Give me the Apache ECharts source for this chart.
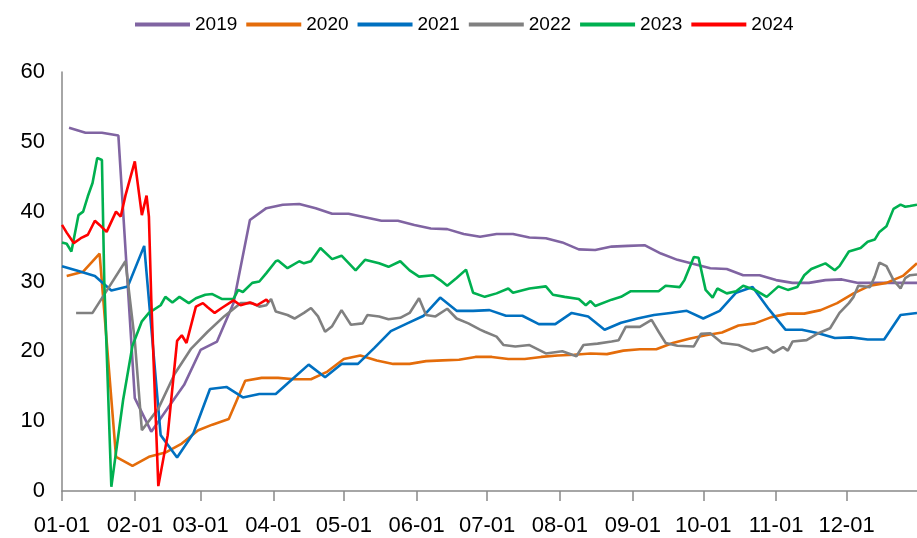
<!DOCTYPE html>
<html>
<head>
<meta charset="utf-8">
<script src="https://cdn.jsdelivr.net/npm/echarts@6/dist/echarts.min.js"></script>
<style>
  html, body { margin: 0; padding: 0; background: #fff; }
  #chart { width: 917px; height: 538px; }
</style>
</head>
<body>
<div id="chart"></div>
<script>
// Day-of-year axis (MM-DD), labelled at the first day of each month
const monthLengths = [31, 28, 31, 30, 31, 30, 31, 31, 30, 31, 30, 31];
const monthTicks = ['01-01', '02-01', '03-01', '04-01', '05-01', '06-01',
                    '07-01', '08-01', '09-01', '10-01', '11-01', '12-01'];

const seriesNames = ['2019', '2020', '2021', '2022', '2023', '2024'];
const seriesColors = ['#8064A2', '#E46C0A', '#0070C0', '#808080', '#00B050', '#FF0000'];

const s2019 = [['01-04',52.0],['01-11',51.3],['01-18',51.3],['01-25',50.9],['02-01',13.3],['02-08',8.5],['02-22',15.2],['03-01',20.2],['03-08',21.4],['03-15',26.9],['03-22',38.8],['03-29',40.5],['04-05',41.0],['04-12',41.1],['04-19',40.5],['04-26',39.7],['05-03',39.7],['05-10',39.2],['05-17',38.7],['05-24',38.7],['05-31',38.1],['06-07',37.6],['06-14',37.5],['06-21',36.8],['06-28',36.4],['07-05',36.8],['07-12',36.8],['07-19',36.3],['07-26',36.2],['08-02',35.6],['08-09',34.6],['08-16',34.5],['08-23',35.0],['08-30',35.1],['09-06',35.2],['09-13',34.0],['09-20',33.1],['09-27',32.5],['10-04',31.9],['10-11',31.8],['10-18',30.9],['10-25',30.9],['11-01',30.2],['11-08',29.8],['11-15',29.8],['11-22',30.2],['11-29',30.3],['12-06',29.8],['12-13',29.8],['12-20',29.8],['12-27',29.8],['12-31',29.8]];

const s2020 = [['01-03',30.8],['01-10',31.4],['01-17',34.0],['01-24',4.9],['01-31',3.6],['02-07',4.9],['02-14',5.5],['02-21',6.8],['02-28',8.7],['03-06',9.5],['03-13',10.3],['03-20',15.8],['03-27',16.2],['04-03',16.2],['04-10',16.0],['04-17',16.0],['04-24',17.1],['05-01',18.9],['05-08',19.4],['05-15',18.7],['05-22',18.2],['05-29',18.2],['06-05',18.6],['06-12',18.7],['06-19',18.8],['06-26',19.2],['07-03',19.2],['07-10',18.9],['07-17',18.9],['07-24',19.2],['07-31',19.4],['08-07',19.5],['08-14',19.7],['08-21',19.6],['08-28',20.1],['09-04',20.3],['09-11',20.3],['09-18',21.2],['09-25',21.8],['10-02',22.3],['10-09',22.7],['10-16',23.7],['10-23',24.0],['10-30',24.9],['11-06',25.4],['11-13',25.4],['11-20',25.9],['11-27',26.9],['12-04',28.3],['12-11',29.4],['12-18',29.8],['12-25',30.8],['12-31',32.6]];

const s2021 = [['01-01',32.2],['01-08',31.5],['01-15',30.8],['01-22',28.7],['01-29',29.3],['02-05',35.1],['02-12',8.0],['02-19',4.8],['02-26',8.3],['03-05',14.6],['03-12',14.9],['03-19',13.4],['03-26',13.9],['04-02',13.9],['04-09',16.0],['04-16',18.1],['04-23',16.3],['04-30',18.2],['05-07',18.2],['05-14',20.5],['05-21',22.9],['05-28',24.0],['06-04',25.1],['06-11',27.7],['06-18',25.8],['06-25',25.8],['07-02',25.9],['07-09',25.1],['07-16',25.1],['07-23',23.9],['07-30',23.9],['08-06',25.5],['08-13',25.0],['08-20',23.1],['08-27',24.1],['09-03',24.7],['09-10',25.2],['09-17',25.5],['09-24',25.8],['10-01',24.7],['10-08',25.8],['10-15',28.4],['10-22',29.2],['10-29',26.0],['11-05',23.1],['11-12',23.1],['11-19',22.6],['11-26',21.9],['12-03',22.0],['12-10',21.7],['12-17',21.7],['12-24',25.2],['12-31',25.5]];

const s2022 = [['01-07',25.5],['01-14',25.5],['01-21',29.2],['01-28',32.9],['02-01',21.5],['02-04',8.7],['02-11',11.8],['02-18',16.8],['02-25',20.4],['03-04',22.8],['03-11',25.0],['03-18',26.9],['03-23',26.9],['03-26',26.4],['03-29',26.6],['03-31',27.5],['04-02',25.7],['04-07',25.2],['04-10',24.7],['04-14',25.5],['04-17',26.2],['04-20',25.0],['04-23',22.8],['04-26',23.6],['04-30',25.9],['05-04',23.8],['05-09',24.0],['05-11',25.2],['05-16',25.0],['05-20',24.6],['05-25',24.8],['05-29',25.5],['06-02',27.6],['06-05',25.2],['06-09',25.0],['06-14',26.1],['06-18',24.7],['06-23',24.0],['06-28',23.1],['06-30',22.8],['07-05',22.1],['07-08',20.9],['07-13',20.7],['07-19',20.9],['07-26',19.7],['08-02',20.0],['08-08',19.3],['08-11',20.9],['08-17',21.1],['08-23',21.4],['08-26',21.6],['08-29',23.5],['09-04',23.5],['09-09',24.5],['09-12',22.8],['09-15',21.2],['09-20',20.8],['09-27',20.7],['09-30',22.5],['10-04',22.6],['10-09',21.2],['10-16',20.9],['10-22',20.0],['10-28',20.6],['10-31',19.8],['11-04',20.6],['11-06',20.1],['11-08',21.4],['11-14',21.6],['11-19',22.6],['11-24',23.3],['11-28',25.5],['12-02',26.9],['12-04',27.8],['12-06',29.4],['12-11',29.2],['12-13',30.7],['12-15',32.7],['12-18',32.2],['12-21',30.2],['12-24',29.0],['12-26',30.5],['12-28',30.9],['12-31',31.0]];

const s2023 = [['01-01',35.6],['01-03',35.4],['01-05',34.3],['01-08',39.5],['01-10',40.0],['01-12',42.2],['01-14',44.1],['01-16',47.7],['01-18',47.4],['01-19',30.0],['01-22',0.6],['01-27',13.0],['01-31',20.8],['02-04',24.3],['02-07',25.5],['02-12',26.6],['02-14',27.8],['02-17',27.0],['02-20',27.8],['02-24',26.9],['02-27',27.6],['03-03',28.1],['03-06',28.2],['03-10',27.5],['03-15',27.5],['03-17',28.8],['03-19',28.5],['03-23',29.8],['03-26',30.0],['03-29',31.2],['04-02',32.9],['04-03',33.0],['04-07',31.9],['04-12',32.9],['04-14',32.6],['04-17',32.9],['04-21',34.8],['04-26',33.2],['04-30',33.7],['05-06',31.6],['05-10',33.1],['05-16',32.6],['05-20',32.1],['05-25',32.9],['05-29',31.6],['06-02',30.7],['06-08',30.9],['06-11',30.2],['06-14',29.4],['06-18',30.5],['06-22',31.7],['06-25',28.4],['06-30',27.8],['07-05',28.3],['07-10',29.0],['07-12',28.4],['07-19',29.0],['07-26',29.3],['07-29',28.1],['08-03',27.8],['08-09',27.5],['08-12',26.6],['08-14',27.2],['08-16',26.5],['08-23',27.4],['08-27',27.8],['08-31',28.6],['09-06',28.6],['09-12',28.6],['09-15',29.4],['09-21',29.2],['09-23',30.2],['09-27',33.5],['09-29',33.4],['10-02',28.8],['10-05',27.7],['10-07',29.0],['10-11',28.3],['10-15',28.6],['10-18',29.4],['10-23',28.8],['10-28',27.8],['11-02',29.3],['11-06',28.8],['11-10',29.2],['11-13',30.9],['11-16',31.8],['11-22',32.6],['11-26',31.6],['11-28',32.2],['12-02',34.3],['12-07',34.8],['12-10',35.7],['12-13',36.0],['12-15',37.1],['12-18',37.9],['12-21',40.4],['12-24',41.0],['12-26',40.7],['12-28',40.8],['12-31',41.0]];

const s2024 = [['01-01',38.1],['01-03',37.0],['01-06',35.5],['01-09',36.2],['01-12',36.7],['01-15',38.7],['01-17',38.1],['01-20',37.1],['01-24',40.0],['01-26',39.3],['01-28',42.3],['02-01',47.2],['02-04',39.5],['02-06',42.3],['02-07',39.3],['02-08',27.5],['02-11',0.7],['02-15',8.0],['02-19',21.5],['02-21',22.3],['02-23',21.2],['02-27',26.4],['03-02',26.9],['03-04',26.3],['03-07',25.5],['03-10',26.2],['03-15',27.3],['03-18',26.6],['03-22',27.0],['03-25',26.6],['03-29',27.4],['03-30',27.0]];

const seriesData = [s2019, s2020, s2021, s2022, s2023, s2024];

// Build the daily category list
const dayLabels = [];
monthLengths.forEach((len, m) => {
  for (let d = 1; d <= len; d++) {
    dayLabels.push(String(m + 1).padStart(2, '0') + '-' + String(d).padStart(2, '0'));
  }
});

const FONT = 'Liberation Sans';
const AXIS_GRAY = '#898989';
const isMonthStart = (idx, value) => monthTicks.indexOf(value) !== -1;

const chart = echarts.init(document.getElementById('chart'), null, { renderer: 'canvas' });
chart.setOption({
  animation: false,
  backgroundColor: '#fff',
  legend: {
    data: seriesNames,
    top: 10,
    left: 130,
    icon: 'rect',
    itemWidth: 55,
    itemHeight: 4,
    itemGap: 9,
    textStyle: { fontFamily: FONT, fontSize: 19, color: '#000' }
  },
  grid: { left: 62, right: -6, top: 72, bottom: 47, containLabel: false },
  xAxis: {
    type: 'category',
    data: dayLabels,
    boundaryGap: false,
    axisLine: { lineStyle: { color: AXIS_GRAY, width: 1.5 } },
    axisTick: { show: true, interval: isMonthStart, length: 10, lineStyle: { color: AXIS_GRAY, width: 1.5 } },
    axisLabel: { interval: isMonthStart, fontFamily: FONT, fontSize: 22, color: '#000', margin: 24 },
    splitLine: { show: false }
  },
  yAxis: {
    type: 'value',
    min: 0,
    max: 60,
    interval: 10,
    axisLine: { show: true, lineStyle: { color: AXIS_GRAY, width: 1.5 } },
    axisTick: { show: false },
    axisLabel: { fontFamily: FONT, fontSize: 22, color: '#000', margin: 17 },
    splitLine: { show: false }
  },
  series: seriesNames.map((name, i) => ({
    name: name,
    type: 'line',
    data: seriesData[i],
    showSymbol: false,
    symbol: 'none',
    color: seriesColors[i],
    lineStyle: { color: seriesColors[i], width: 2.6 },
    emphasis: { disabled: true }
  }))
});
</script>
</body>
</html>
